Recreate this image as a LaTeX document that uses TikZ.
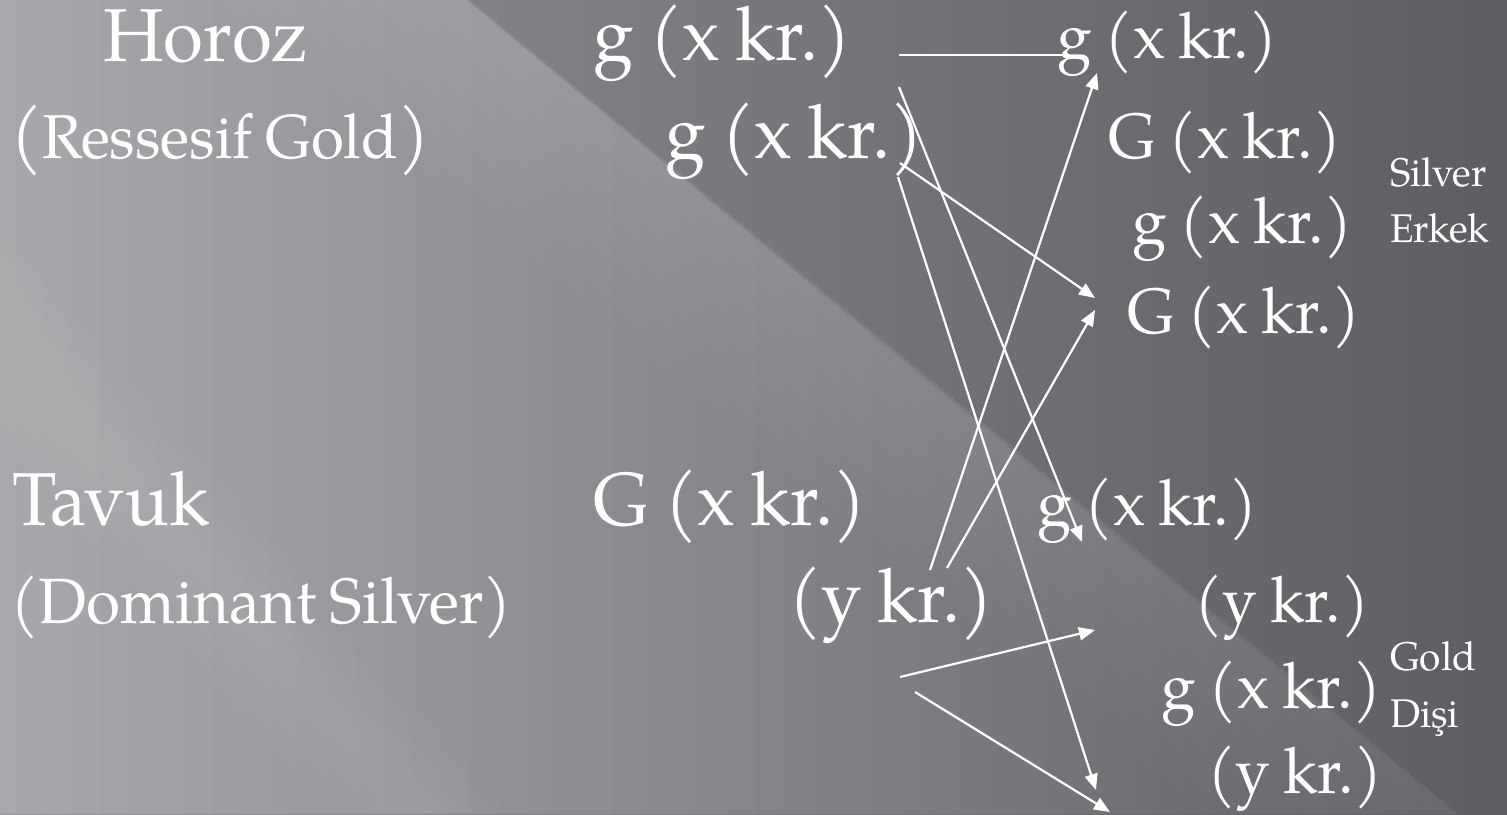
\documentclass[tikz,border=0pt]{standalone}
\usepackage{fontspec}
\setmainfont{texgyrepagella}[Extension=.otf,UprightFont=*-regular,BoldFont=*-bold,ItalicFont=*-italic,BoldItalicFont=*-bolditalic,WordSpace=0.85,FakeStretch=0.97]
\usetikzlibrary{arrows.meta,positioning,fadings}
\definecolor{BgLeft}{HTML}{949297}
\definecolor{BgRight}{HTML}{5E5D62}
\begin{document}
\begin{tikzpicture}[
  x=1pt,y=-1pt,
  every node/.style={text=white,inner sep=0pt,anchor=base west},
  big/.style={font=\fontsize{75}{80}\selectfont},
  mid/.style={font=\fontsize{64}{70}\selectfont},
  side/.style={font=\fontsize{40}{44}\selectfont},
  arr/.style={-{Triangle[length=16pt,width=13pt]},line width=2.2pt,white},
  bar/.style={line width=2.2pt,white}
]
\useasboundingbox (0,0) rectangle (1507,814);
\shade[left color=BgLeft,right color=BgRight] (0,0) rectangle (1507,814);
\fill[white,fill opacity=0.2,path fading=east] (0,0) -- (470,0) -- (1458,814) -- (0,814) -- cycle;
\foreach \w in {25,50,...,250}
  \fill[white,fill opacity=0.012] (470-\w,0) -- (470,0) -- (1458,814) -- (1458-\w,814) -- cycle;
\foreach \w in {15,30,...,90}
  \fill[white,fill opacity=0.012] (-293-\w,0) -- (-293+\w,0) -- (420+\w,814) -- (420-\w,814) -- cycle;
\node[big] (horoz) at (103,61) {Horoz};
\node (ressesif) at (10,158) {{\fontsize{72}{76}\selectfont(}{\fontsize{62}{66}\selectfont Ressesif Gold}{\fontsize{72}{76}\selectfont)}};
\node[big] (tavuk) at (12,525) {Tavuk};
\node[mid] (dominant) at (10,623) {(Dominant Silver)};
\node[big] (hg1) at (593,60) {g (x kr.)};
\node[big] (hg2) at (665,158) {g (x kr.)};
\node[big] (tG) at (593,525) {G (x kr.)};
\node[big] (ty) at (788,622) {(y kr.)};
\node[mid] (m1) at (1057,58) {g (x kr.)};
\node[mid] (m2) at (1108,158) {G (x kr.)};
\node[mid] (m3) at (1132,243) {g (x kr.)};
\node[mid] (m4) at (1127,333) {G (x kr.)};
\node[mid] (f1) at (1037,525) {g (x kr.)};
\node[mid] (f2) at (1194,622) {(y kr.)};
\node[mid] (f3) at (1161,708) {g (x kr.)};
\node[mid] (f4) at (1207,793) {(y kr.)};
\node[side] (silver) at (1390,186) {Silver};
\node[side] (erkek) at (1390,242) {Erkek};
\node[side] (gold) at (1390,670) {Gold};
\node[side] (disi) at (1390,727) {Dişi};
\coordinate (hg1out) at (899,55);
\coordinate (m1in) at (1066,55);
\coordinate (hg1a) at (899,87);
\coordinate (hg2a) at (900,163);
\coordinate (hg2b) at (898,177);
\coordinate (tya) at (930,570);
\coordinate (tyb) at (947,568);
\coordinate (tyc) at (900,677);
\coordinate (tyd) at (915,692);
\coordinate (m1tip) at (1097,73);
\coordinate (m4tipa) at (1095,298);
\coordinate (m4tipb) at (1095,310);
\coordinate (f1tip) at (1082,542);
\coordinate (f2tip) at (1095,630);
\coordinate (f4tipa) at (1096,790);
\coordinate (f4tipb) at (1110,812);
\draw[bar] (hg1out) -- (m1in);
\draw[arr] (hg1a) -- (f1tip);
\draw[arr] (hg2a) -- (m4tipa);
\draw[arr] (hg2b) -- (f4tipa);
\draw[arr] (tya) -- (m1tip);
\draw[arr] (tyb) -- (m4tipb);
\draw[arr] (tyc) -- (f2tip);
\draw[arr] (tyd) -- (f4tipb);
\end{tikzpicture}
\end{document}
